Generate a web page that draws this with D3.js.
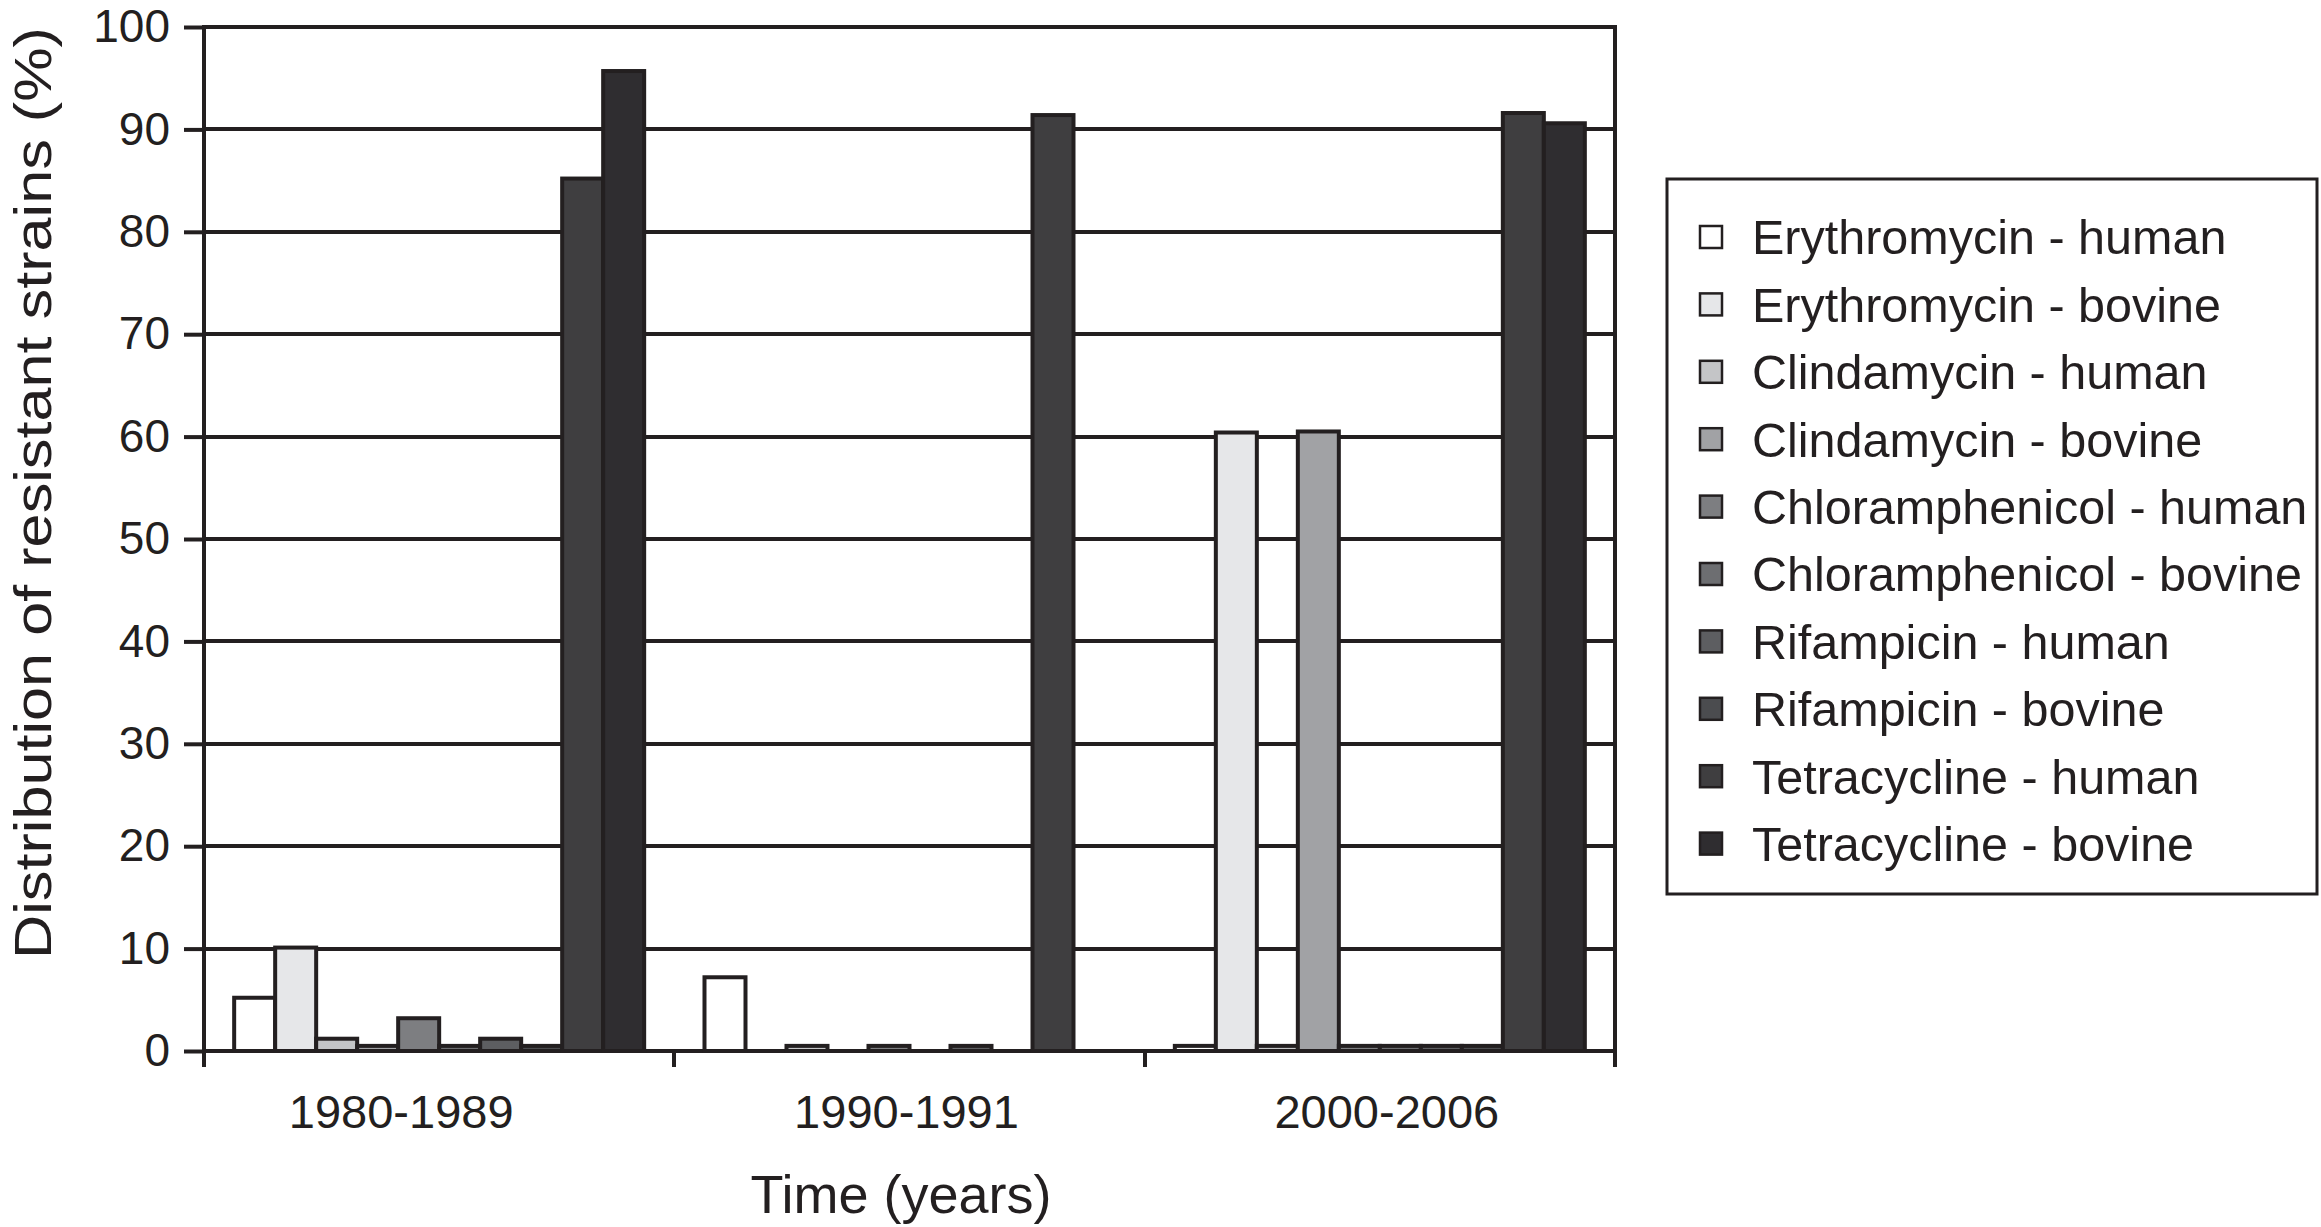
<!DOCTYPE html>
<html>
<head>
<meta charset="utf-8">
<script src="https://cdn.jsdelivr.net/npm/d3@7"></script>
<style>
  html, body { margin: 0; padding: 0; background: #fff; }
  svg { display: block; }
  text { font-family: "Liberation Sans", Arial, Helvetica, sans-serif; fill: #231f20; }
</style>
</head>
<body>
<svg id="chart" width="2321" height="1227"></svg>
<script>
// ---- Data ----
const periods = ["1980-1989", "1990-1991", "2000-2006"];
const seriesNames = [
  "Erythromycin - human",
  "Erythromycin - bovine",
  "Clindamycin - human",
  "Clindamycin - bovine",
  "Chloramphenicol - human",
  "Chloramphenicol - bovine",
  "Rifampicin - human",
  "Rifampicin - bovine",
  "Tetracycline - human",
  "Tetracycline - bovine"
];
// values per series, one per period
const erythromycinHuman     = [5.2, 7.2, 0.5];
const erythromycinBovine    = [10.1, 0, 60.4];
const clindamycinHuman      = [1.2, 0.5, 0.5];
const clindamycinBovine     = [0.5, 0, 60.5];
const chloramphenicolHuman  = [3.2, 0.5, 0.5];
const chloramphenicolBovine = [0.5, 0, 0.5];
const rifampicinHuman       = [1.2, 0.5, 0.5];
const rifampicinBovine      = [0.5, 0, 0.5];
const tetracyclineHuman     = [85.2, 91.4, 91.6];
const tetracyclineBovine    = [95.7, 0, 90.6];
const seriesValues = [
  erythromycinHuman, erythromycinBovine, clindamycinHuman, clindamycinBovine,
  chloramphenicolHuman, chloramphenicolBovine, rifampicinHuman, rifampicinBovine,
  tetracyclineHuman, tetracyclineBovine
];
const seriesColors = ["#ffffff", "#e6e7e9", "#c4c5c7", "#a1a2a5", "#7d7e81",
                      "#6d6e71", "#5d5e61", "#4b4c4f", "#3f3e40", "#2f2d30"];
const yTicks = [0, 10, 20, 30, 40, 50, 60, 70, 80, 90, 100];
const yTitle = "Distribution of resistant strains (%)";
const xTitle = "Time (years)";

// ---- Layout ----
const ink = "#231f20";
const plot = { left: 204, right: 1615, top: 27, bottom: 1051 };
const labelShift = [-38, -3, 7]; // the original's category labels sit slightly off-centre
const svg = d3.select("#chart");

const y = d3.scaleLinear().domain([0, 100]).range([plot.bottom, plot.top]);
const x0 = d3.scaleBand().domain(periods).range([plot.left, plot.right]).padding(0);
const bw = x0.bandwidth();
const groupPad = (bw - 410) / 2;
const x1 = d3.scaleBand().domain(seriesNames).range([groupPad, bw - groupPad]).padding(0);

// gridlines
svg.append("g").selectAll("line").data(yTicks).join("line")
  .attr("x1", plot.left).attr("x2", plot.right)
  .attr("y1", d => Math.round(y(d))).attr("y2", d => Math.round(y(d)))
  .attr("stroke", ink).attr("stroke-width", 4);

// y axis
const yAxis = d3.axisLeft(y).tickValues(yTicks).tickSize(20).tickPadding(14).tickFormat(d3.format("d"));
const gy = svg.append("g").attr("transform", `translate(${plot.left},0)`).call(yAxis);
gy.select(".domain").remove();
gy.selectAll(".tick line").attr("stroke", ink).attr("stroke-width", 4);
gy.selectAll(".tick text").style("font-size", "46px").attr("fill", ink)
  .style("font-family", "'Liberation Sans', Arial, sans-serif");
svg.append("line").attr("x1", plot.left).attr("x2", plot.left)
  .attr("y1", plot.top - 2).attr("y2", plot.bottom + 16)
  .attr("stroke", ink).attr("stroke-width", 4);

// x axis (ticks at band boundaries)
const boundaries = periods.map(p => x0(p)).concat([plot.right]);
svg.append("g").selectAll("line").data(boundaries).join("line")
  .attr("x1", d => Math.round(d)).attr("x2", d => Math.round(d))
  .attr("y1", plot.bottom).attr("y2", plot.bottom + 16)
  .attr("stroke", ink).attr("stroke-width", 4);
// right frame
svg.append("line").attr("x1", plot.right).attr("x2", plot.right)
  .attr("y1", plot.top - 2).attr("y2", plot.bottom + 16)
  .attr("stroke", ink).attr("stroke-width", 4);

// category labels
svg.append("g").selectAll("text").data(periods).join("text")
  .attr("x", (d, i) => x0(d) + bw / 2 + labelShift[i]).attr("y", 1128)
  .attr("text-anchor", "middle").style("font-size", "47px").text(d => d);

// bars
const groups = svg.append("g").selectAll("g").data(periods).join("g")
  .attr("transform", d => `translate(${x0(d)},0)`);
groups.selectAll("rect")
  .data((p, pi) => seriesNames.map((s, si) => ({ s, si, v: seriesValues[si][pi] })).filter(d => d.v > 0))
  .join("rect")
  .attr("x", d => x1(d.s)).attr("width", x1.bandwidth())
  .attr("y", d => y(d.v)).attr("height", d => y(0) - y(d.v))
  .attr("fill", d => seriesColors[d.si])
  .attr("stroke", ink).attr("stroke-width", 4);

// axis titles
svg.append("text").attr("x", 901).attr("y", 1213).attr("text-anchor", "middle")
  .style("font-size", "54px").text(xTitle);
svg.append("text")
  .attr("transform", "translate(51,493) rotate(-90)")
  .attr("text-anchor", "middle").style("font-size", "52px")
  .attr("textLength", 932).attr("lengthAdjust", "spacingAndGlyphs")
  .text(yTitle);

// legend
const legend = svg.append("g");
legend.append("rect").attr("x", 1667).attr("y", 179).attr("width", 650).attr("height", 715)
  .attr("fill", "#fff").attr("stroke", ink).attr("stroke-width", 3);
const items = legend.selectAll("g.item").data(seriesNames).join("g")
  .attr("class", "item")
  .attr("transform", (d, i) => `translate(1700,${237 + i * 67.4})`);
items.append("rect").attr("x", 0).attr("y", -11).attr("width", 22).attr("height", 22)
  .attr("fill", (d, i) => seriesColors[i]).attr("stroke", ink).attr("stroke-width", 2.5);
items.append("text").attr("x", 52).attr("y", 0).attr("dy", "0.36em")
  .style("font-size", "48.5px").text(d => d);
</script>
</body>
</html>
